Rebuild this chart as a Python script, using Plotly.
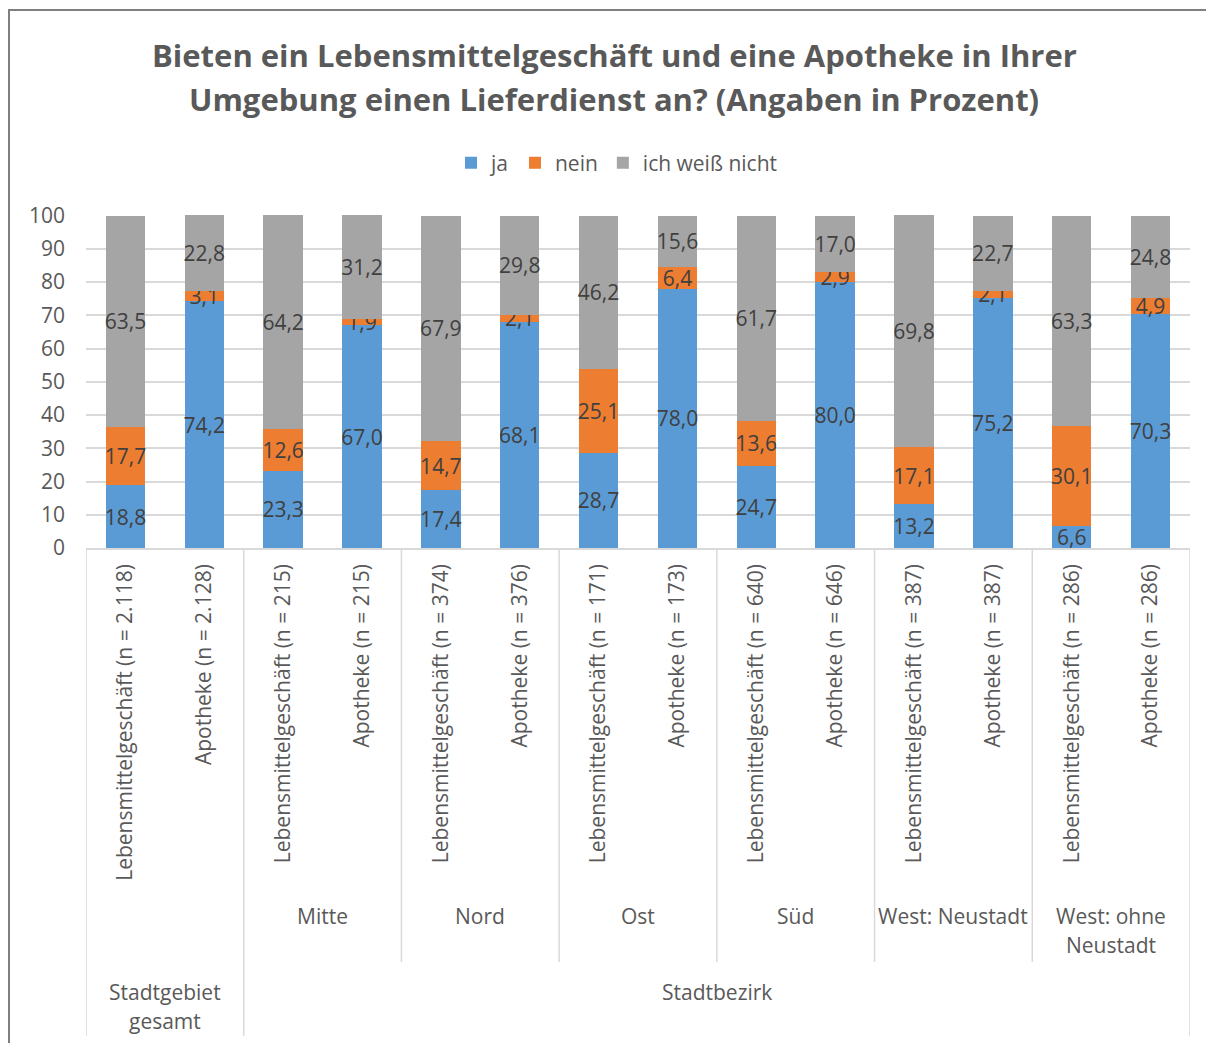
import plotly.graph_objects as go

# bar labels (lowest category level)
bar_labels = [
    "Lebensmittelgeschäft (n = 2.118)", "Apotheke (n = 2.128)",
    "Lebensmittelgeschäft (n = 215)", "Apotheke (n = 215)",
    "Lebensmittelgeschäft (n = 374)", "Apotheke (n = 376)",
    "Lebensmittelgeschäft (n = 171)", "Apotheke (n = 173)",
    "Lebensmittelgeschäft (n = 640)", "Apotheke (n = 646)",
    "Lebensmittelgeschäft (n = 387)", "Apotheke (n = 387)",
    "Lebensmittelgeschäft (n = 286)", "Apotheke (n = 286)",
]
# middle level: (label, number of bars)
sub_groups = [("", 2), ("Mitte", 2), ("Nord", 2), ("Ost", 2), ("Süd", 2),
              ("West: Neustadt", 2), ("West: ohne\nNeustadt", 2)]
# top level
top_groups = [("Stadtgebiet\ngesamt", 2), ("Stadtbezirk", 12)]

ja = [18.8, 74.2, 23.3, 67.0, 17.4, 68.1, 28.7, 78.0, 24.7, 80.0, 13.2, 75.2, 6.6, 70.3]
nein = [17.7, 3.1, 12.6, 1.9, 14.7, 2.1, 25.1, 6.4, 13.6, 2.9, 17.1, 2.1, 30.1, 4.9]
weiss_nicht = [63.5, 22.8, 64.2, 31.2, 67.9, 29.8, 46.2, 15.6, 61.7, 17.0, 69.8, 22.7, 63.3, 24.8]

series = [("ja", ja, "#5B9BD5"), ("nein", nein, "#ED7D31"), ("ich weiß nicht", weiss_nicht, "#A5A5A5")]

FONT = "Open Sans"
FS = 21
TXT = "#595959"
GRID = "#d9d9d9"

# page has an 8px body margin, so the figure is shrunk by that much
OFF = 8
PLOT_L, PLOT_R, PLOT_T, PLOT_B = 86, 1190, 215, 548   # plot area in page pixels
W, H = 1214 - OFF, 1043 - OFF


def py(p):
    # page pixel row -> paper y
    return (PLOT_B - p) / (PLOT_B - PLOT_T)


def px(p):
    return (p - PLOT_L) / (PLOT_R - PLOT_L)


fig = go.Figure()
for name, vals, col in series:
    fig.add_trace(go.Bar(
        x=bar_labels, y=vals, name=name, marker=dict(color=col, line=dict(width=0)),
        text=vals, texttemplate="%{y:.1f}", textposition="inside",
        insidetextanchor="middle", textangle=0, constraintext="none", cliponaxis=False,
        textfont=dict(family=FONT, size=FS, color="#404040"),
        width=0.5,
    ))

shapes = []
annotations = []


def vline(x, p0, p1):
    shapes.append(dict(type="line", xref="x", yref="paper", x0=x, x1=x,
                       y0=py(p0), y1=py(p1), line=dict(color=GRID, width=1.5)))


def label(x, p, text):
    for k, line in enumerate(text.split("\n")):
        if line:
            annotations.append(dict(xref="x", yref="paper", x=x, y=py(p + 29 * k),
                                    text=line, showarrow=False, yanchor="middle",
                                    font=dict(family=FONT, size=FS, color=TXT)))


# middle level labels and dividers
pos = -0.5
for name, n in sub_groups:
    vline(pos, PLOT_B, 962)
    label(pos + n / 2, 916, name)
    pos += n
vline(pos, PLOT_B, 962)

# top level labels and dividers
pos = -0.5
for name, n in top_groups:
    vline(pos, 962, 1036)
    label(pos + n / 2, 992, name)
    pos += n
vline(pos, 962, 1036)

# outer chart frame
shapes.append(dict(type="rect", xref="paper", yref="paper", x0=px(9), x1=px(1213),
                   y0=py(1070), y1=py(10), line=dict(color="#7f7f7f", width=2)))

# title (two lines)
title_lines = ["Bieten ein Lebensmittelgeschäft und eine Apotheke in Ihrer",
               "Umgebung einen Lieferdienst an? (Angaben in Prozent)"]
for k, line in enumerate(title_lines):
    annotations.append(dict(xref="paper", yref="paper", x=px(614), y=py(55 + 44 * k),
                            text="<b>" + line + "</b>", showarrow=False, yanchor="middle",
                            font=dict(family=FONT, size=31, color=TXT)))

fig.update_layout(
    width=W, height=H,
    margin=dict(l=PLOT_L - OFF, r=W - (PLOT_R - OFF), t=PLOT_T - OFF, b=H - (PLOT_B - OFF)),
    barmode="stack",
    separators=",.",
    paper_bgcolor="white", plot_bgcolor="white",
    font=dict(family=FONT, size=FS, color=TXT),
    showlegend=True,
    legend=dict(orientation="h", traceorder="normal", x=px(617), xanchor="center",
                y=py(163), yanchor="middle", itemwidth=30,
                font=dict(family=FONT, size=FS, color=TXT), itemclick=False),
    shapes=shapes,
    annotations=annotations,
)
fig.update_xaxes(type="category", tickangle=-90, showline=True, linecolor=GRID, linewidth=1.5,
                 ticks="", tickfont=dict(family=FONT, size=FS, color=TXT), ticklabelstandoff=6,
                 showgrid=False, range=[-0.5, 13.5])
# a hair above 100 so stacks summing to 100,1 keep their labels
fig.update_yaxes(range=[0, 100.15], tickvals=list(range(0, 101, 10)), showgrid=True,
                 gridcolor=GRID, gridwidth=1.5, zeroline=False, showline=False, ticks="",
                 ticklabelstandoff=20, tickfont=dict(family=FONT, size=FS, color=TXT))

fig.write_html("out.html")
